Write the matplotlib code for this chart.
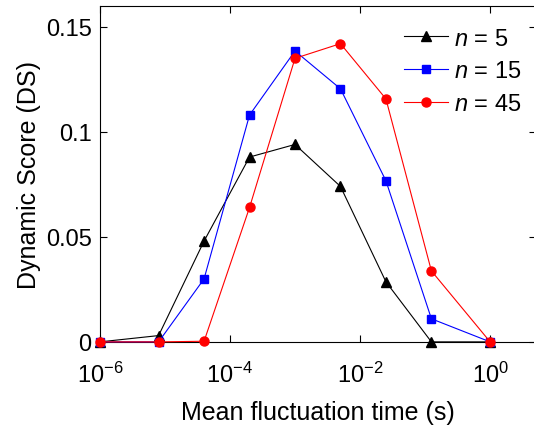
import numpy as np
import matplotlib.pyplot as plt
from matplotlib.ticker import FixedLocator, NullLocator

plt.rcParams['font.family'] = ['Liberation Sans', 'DejaVu Sans']
plt.rcParams['mathtext.fontset'] = 'custom'
plt.rcParams['mathtext.rm'] = 'Liberation Sans'
plt.rcParams['mathtext.it'] = 'Liberation Sans:italic'

# mean fluctuation time (s)
times = [1e-6, 8e-6, 4e-5, 2e-4, 1e-3, 5e-3, 2.5e-2, 0.125, 1.0]
ds_n5 = [0.0, 0.003, 0.048, 0.088, 0.094, 0.074, 0.0286, 0.0, 0.0]
ds_n15 = [0.0, 0.0, 0.030, 0.108, 0.1385, 0.1205, 0.0767, 0.011, 0.0]
ds_n45 = [0.0, 0.0, 0.0003, 0.064, 0.135, 0.142, 0.1157, 0.0338, 0.0]

x_ticks = [1e-6, 1e-4, 1e-2, 1e0]
x_labels = ['$10^{-6}$', '$10^{-4}$', '$10^{-2}$', '$10^{0}$']
y_ticks = [0, 0.05, 0.1, 0.15]
y_labels = ['0', '0.05', '0.1', '0.15']

fig = plt.figure(figsize=(5.34, 4.27), dpi=100)
ax = fig.add_axes([0.187, 0.197, 0.816, 0.787])

ax.plot(times, ds_n5, color='black', lw=0.8, marker='^', ms=6.5,
        label='$n$ = 5', clip_on=False, zorder=3)
ax.plot(times, ds_n15, color='blue', lw=0.8, marker='s', ms=5.5,
        label='$n$ = 15', clip_on=False, zorder=4)
ax.plot(times, ds_n45, color='red', lw=0.8, marker='o', ms=6.5,
        label='$n$ = 45', clip_on=False, zorder=5)

ax.set_xscale('log')
ax.set_xlim(1e-6, 5)
ax.set_ylim(0, 0.16)
ax.xaxis.set_major_locator(FixedLocator(x_ticks))
ax.xaxis.set_minor_locator(NullLocator())
ax.set_xticklabels(x_labels)
ax.set_yticks(y_ticks)
ax.set_yticklabels(y_labels)
ax.tick_params(direction='in', top=True, right=True, length=5, width=0.8,
               labelsize=17)
ax.tick_params(axis='x', pad=14)
ax.tick_params(axis='y', pad=6)
for s in ax.spines.values():
    s.set_linewidth(0.8)

ax.set_xlabel('Mean fluctuation time (s)', fontsize=18, labelpad=10)
ax.set_ylabel('Dynamic Score (DS)', fontsize=18, labelpad=3)

ax.legend(loc='upper right', frameon=False, fontsize=17, handlelength=1.85,
          handletextpad=0.25, labelspacing=0.45, borderaxespad=0.0,
          bbox_to_anchor=(0.988, 0.963))

fig.savefig('out.png', dpi=100)
